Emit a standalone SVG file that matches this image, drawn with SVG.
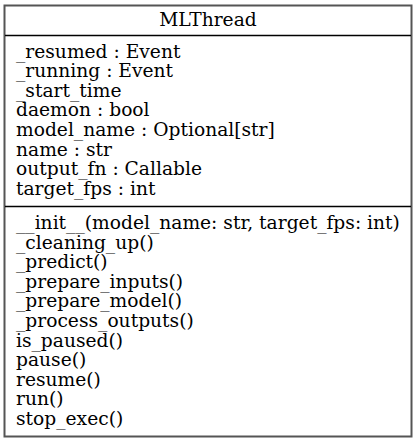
<svg xmlns="http://www.w3.org/2000/svg" width="417" height="444" viewBox="0 0 417 444">
<style>
.t{font-family:"DejaVu Serif",serif;font-size:18.67px;fill:#000}
.sep{stroke:#000;stroke-width:1.3}
</style>
<rect width="417" height="444" fill="#fff"/>
<g id="MLThread">
<rect x="4.5" y="5.5" width="407" height="431" fill="#fff" stroke="#555" stroke-width="2"/>
<text class="t" x="208" y="26" text-anchor="middle">MLThread</text>
<line class="sep" x1="5" y1="35.5" x2="411" y2="35.5"/>
<text class="t" x="16" y="57.5">_resumed : Event</text>
<text class="t" x="16" y="77.1">_running : Event</text>
<text class="t" x="16" y="96.7">_start_time</text>
<text class="t" x="16" y="116.3">daemon : bool</text>
<text class="t" x="16" y="135.9">model_name : Optional[str]</text>
<text class="t" x="16" y="155.5">name : str</text>
<text class="t" x="16" y="175.1">output_fn : Callable</text>
<text class="t" x="16" y="194.7">target_fps : int</text>
<line class="sep" x1="5" y1="206.5" x2="411" y2="206.5"/>
<text class="t" x="16" y="229">__init__(model_name: str, target_fps: int)</text>
<text class="t" x="16" y="248.6">_cleaning_up()</text>
<text class="t" x="16" y="268.2">_predict()</text>
<text class="t" x="16" y="287.8">_prepare_inputs()</text>
<text class="t" x="16" y="307.4">_prepare_model()</text>
<text class="t" x="16" y="327">_process_outputs()</text>
<text class="t" x="16" y="346.6">is_paused()</text>
<text class="t" x="16" y="366.2">pause()</text>
<text class="t" x="16" y="385.8">resume()</text>
<text class="t" x="16" y="405.4">run()</text>
<text class="t" x="16" y="425">stop_exec()</text>
</g>
</svg>
